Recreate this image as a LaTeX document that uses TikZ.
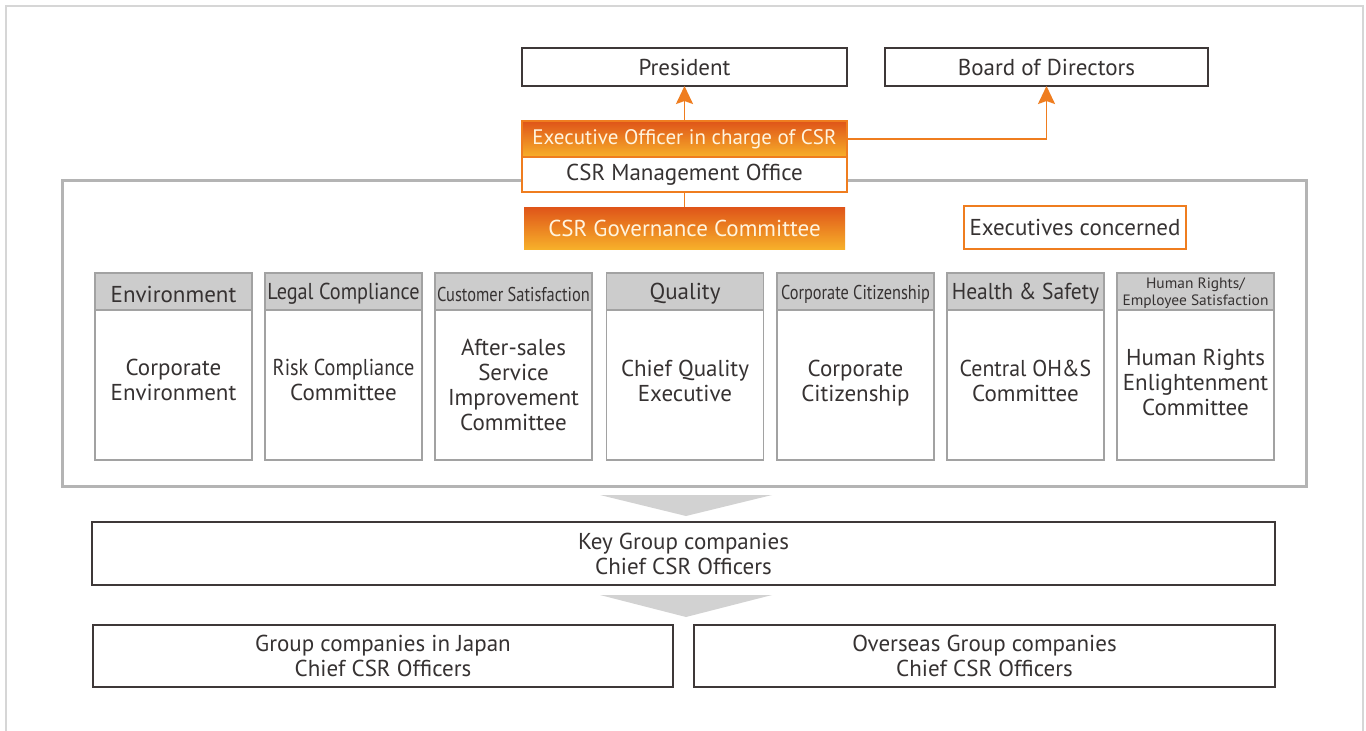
\documentclass[tikz,border=0pt]{standalone}
\usepackage{fontspec}
\usepackage{graphicx}
\setmainfont{PT Sans}
\usetikzlibrary{arrows.meta}
\definecolor{txt}{HTML}{363232}
\definecolor{dk}{HTML}{3E3838}
\definecolor{org}{HTML}{EF7D1F}
\definecolor{orgtop}{HTML}{DF5419}
\definecolor{orgbot}{HTML}{F7B02A}
\definecolor{gfr}{HTML}{B4B4B4}
\definecolor{ghd}{HTML}{CCCCCC}
\definecolor{gbd}{HTML}{A2A2A2}
\definecolor{outer}{HTML}{D6D6D6}
\definecolor{tri}{HTML}{D2D2D2}
\definecolor{cream}{HTML}{FFF4DE}
\newcommand\bt[2][0pt]{\raisebox{#1}[\height][\depth]{\begin{tabular}{@{}c@{}}#2\end{tabular}}}
\newcommand\sx[2]{\scalebox{#1}[1]{#2}}
\newcommand\hd[1]{\raisebox{-2.5pt}[\height][\depth]{#1}}
\tikzset{
  every node/.style={inner sep=0pt, outer sep=0pt, text=txt, font=\fontsize{23}{25}\selectfont},
  darkbox/.style={draw=dk, line width=1.6pt, fill=white, align=center},
  obox/.style={draw=org, line width=1.6pt, fill=white, align=center},
  oline/.style={draw=org, line width=1.8pt},
  oarrow/.style={oline, -{Stealth[length=18pt,width=17pt,inset=3pt]}},
  hdr/.style={draw=gbd, line width=1.4pt, fill=ghd, minimum width=157pt, minimum height=37pt, align=center},
  bdy/.style={draw=gbd, line width=1.4pt, fill=white, minimum width=157pt, minimum height=150pt, align=center},
  trishape/.style={fill=tri, draw=none}
}
\begin{document}
\begin{tikzpicture}[x=1pt,y=-1pt]
\useasboundingbox (0,0) rectangle (1366,731);
\fill[white] (0,0) rectangle (1366,731);
% outer frame
\draw[outer, line width=2pt] (6,735) -- (6,6) -- (1363,6) -- (1363,735);
% gray frame
\draw[gfr, line width=3pt] (62,180) rectangle (1306,486);
% top boxes
\node[darkbox, minimum width=325pt, minimum height=38pt] (pres) at (684.5,67) {President};
\node[darkbox, minimum width=323pt, minimum height=38pt] (board) at (1046.5,67) {Board of Directors};
% executive officer box
\node[draw=org, line width=1.6pt, top color=orgtop, bottom color=orgbot, minimum width=325pt, minimum height=36pt, text=cream, font=\fontsize{21}{24}\selectfont] (execA) at (684.5,139) {Executive Officer in charge of CSR};
\node[obox, minimum width=325pt, minimum height=35pt] (execB) at (684.5,174.5) {CSR Management Office};
\node[draw=none, top color=orgtop, bottom color=orgbot, minimum width=321pt, minimum height=42pt, text=cream] (gov) at (684.5,228) {CSR Governance Committee};
\node[obox, minimum width=222pt, minimum height=43pt] (exc) at (1075,227.5) {Executives concerned};
% connectors
\draw[oarrow] (execA.north) -- (pres.south);
\draw[oarrow] (execA.east) -| (board.south);
\draw[oline] (execB.south) -- (gov.north);
% category boxes
\node[hdr] (h1) at (173.5,291.5) {\hd{Environment}};
\node[bdy] (b1) at (173.5,385) {\bt[2.5pt]{Corporate\\Environment}};
\node[hdr] (h2) at (343.5,291.5) {\hd{\sx{0.88}{Legal Compliance}}};
\node[bdy] (b2) at (343.5,385) {\bt[2.5pt]{\sx{0.88}{Risk Compliance}\\Committee}};
\node[hdr] (h3) at (513.5,291.5) {\hd{\sx{0.82}{\fontsize{20}{22}\selectfont Customer Satisfaction}}};
\node[bdy] (b3) at (513.5,385) {\bt[-3pt]{After-sales\\Service\\Improvement\\Committee}};
\node[hdr] (h4) at (685,291.5) {\hd{Quality}};
\node[bdy] (b4) at (685,385) {\bt[1pt]{Chief Quality\\Executive}};
\node[hdr] (h5) at (855.5,291.5) {\hd{\sx{0.815}{\fontsize{20}{22}\selectfont Corporate Citizenship}}};
\node[bdy] (b5) at (855.5,385) {\bt[1.5pt]{Corporate\\Citizenship}};
\node[hdr] (h6) at (1025.5,291.5) {\hd{\sx{0.935}{Health \& Safety}}};
\node[bdy] (b6) at (1025.5,385) {\bt[1pt]{\sx{0.95}{Central OH\&S}\\Committee}};
\node[hdr] (h7) at (1195.5,291.5) {\hd{\sx{1.03}{\fontsize{15}{17}\selectfont\begin{tabular}{@{}c@{}}Human Rights/\\Employee Satisfaction\end{tabular}}}};
\node[bdy] (b7) at (1195.5,385) {\bt{Human Rights\\Enlightenment\\Committee}};
% down triangles
\fill[trishape] (600,495) -- (772,495) -- (686,516) -- cycle;
\fill[trishape] (600,595) -- (772,595) -- (686,617) -- cycle;
% bottom boxes
\node[darkbox, minimum width=1183pt, minimum height=63pt] (key) at (683.5,553.5) {Key Group companies\\Chief CSR Officers};
\node[darkbox, minimum width=580pt, minimum height=62pt] (jp) at (383,656) {Group companies in Japan\\Chief CSR Officers};
\node[darkbox, minimum width=581pt, minimum height=62pt] (ov) at (984.5,656) {Overseas Group companies\\Chief CSR Officers};
\end{tikzpicture}
\end{document}
